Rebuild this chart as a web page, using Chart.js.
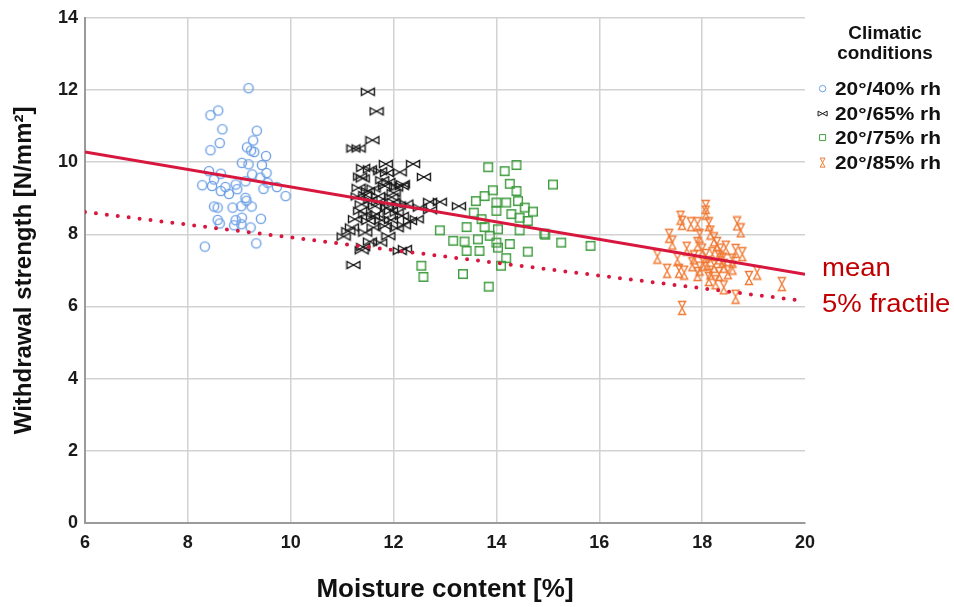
<!DOCTYPE html>
<html>
<head>
<meta charset="utf-8">
<script src="https://cdn.jsdelivr.net/npm/chart.js@4.4.1/dist/chart.umd.min.js"></script>
<style>
  body { margin: 0; background: #fff; }
  #wrap { position: relative; width: 954px; height: 607px; font-family: "Liberation Sans", Arial, sans-serif; }
  #legTitle { position: absolute; left: 835px; top: 23px; width: 100px; text-align: center;
    font-weight: bold; font-size: 18px; line-height: 20px; color: #111; transform: scaleX(1.05); }
  .row { position: absolute; left: 817px; height: 22px; display: flex; align-items: center; }
  .row span { font-weight: bold; font-size: 19px; color: #111; margin-left: 6px;
    transform: scaleX(1.1); transform-origin: left center; white-space: nowrap; }
  .note { position: absolute; left: 822px; font-size: 25px; color: #c00000;
    transform: scaleX(1.1); transform-origin: left center; white-space: nowrap; line-height: 30px; }
</style>
</head>
<body>
<div id="wrap">
  <canvas id="chart" width="954" height="607"></canvas>
  <div id="legTitle">Climatic<br>conditions</div>
  <div id="legend"></div>
  <div class="note" style="top:252px">mean</div>
  <div class="note" style="top:288px">5% fractile</div>
</div>
<script>
// moisture content [%], withdrawal strength [N/mm²]
const rh40 = [[9.18,12.05],[8.59,11.43],[8.44,11.30],[8.67,10.91],[9.34,10.87],[8.62,10.53],[8.44,10.33],
  [9.27,10.60],[9.15,10.41],[9.23,10.32],[9.29,10.28],[9.52,10.17],[9.05,9.98],[9.18,9.94],[9.44,9.92],
  [9.53,9.70],[8.41,9.75],[8.64,9.68],[8.51,9.52],[9.25,9.66],[9.41,9.57],[8.28,9.36],[8.47,9.34],
  [8.73,9.31],[8.93,9.38],[9.12,9.47],[9.55,9.43],[8.64,9.20],[8.80,9.12],[8.96,9.25],[9.47,9.26],
  [9.73,9.31],[9.90,9.06],[9.12,9.01],[9.14,8.93],[8.51,8.77],[8.58,8.74],[8.87,8.74],[9.04,8.78],
  [9.24,8.77],[8.58,8.40],[8.62,8.30],[8.93,8.39],[9.05,8.46],[9.04,8.28],[8.90,8.25],[9.42,8.43],
  [9.22,8.19],[9.33,7.75],[8.33,7.66]];

const rh65 = [[11.50,11.95],[11.67,11.41],[11.59,10.61],[11.32,10.38],[11.22,10.38],[12.38,9.95],[12.59,9.59],
  [11.41,9.84],[11.54,9.80],[11.74,9.75],[11.87,9.70],[12.12,9.72],[11.32,9.29],[11.61,9.27],[11.83,9.34],
  [12.16,9.34],[11.45,9.09],[11.70,9.06],[11.96,9.03],[12.71,8.90],[12.90,8.90],[11.38,8.83],[11.64,8.78],
  [11.87,8.74],[12.51,8.74],[12.71,8.67],[11.67,8.56],[12.06,8.60],[12.16,8.51],[11.25,8.42],[11.51,8.37],
  [11.77,8.39],[12.32,8.37],[12.45,8.42],[11.19,8.19],[11.61,8.19],[11.83,8.23],[12.06,8.17],[11.12,8.09],
  [11.03,7.94],[11.54,7.80],[11.74,7.77],[11.41,7.65],[11.38,7.56],[12.12,7.54],[11.22,7.15],[12.18,9.39],
  [13.27,8.78],[12.22,7.59],[11.40,9.55],[11.78,9.50],[12.00,9.15],[11.55,8.95],[11.95,8.40],[11.45,8.55],
  [12.25,8.85],[11.30,9.05],[11.85,9.95],[12.00,8.90],[11.35,9.60],[11.90,9.45],[12.05,9.30],[11.50,9.20],
  [11.70,8.90],[12.10,8.80],[11.35,8.65],[11.95,8.65],[11.60,8.50],[12.20,8.25],[11.45,8.05],[11.90,7.95]];

const rh75 = [[13.84,9.86],[14.39,9.92],[14.16,9.75],[15.10,9.38],[14.26,9.40],[14.39,9.20],[13.93,9.22],
  [13.77,9.06],[13.60,8.92],[14.00,8.88],[14.19,8.88],[14.42,8.92],[14.55,8.74],[14.71,8.63],[13.56,8.60],
  [14.00,8.65],[14.29,8.56],[13.71,8.42],[14.45,8.46],[14.61,8.37],[13.42,8.20],[13.77,8.20],[14.03,8.14],
  [14.45,8.11],[12.90,8.11],[14.93,8.02],[13.87,7.96],[13.64,7.86],[13.16,7.82],[13.38,7.80],[14.00,7.77],
  [15.26,7.77],[14.26,7.73],[13.67,7.54],[13.42,7.54],[14.03,7.63],[14.61,7.52],[14.19,7.34],[14.09,7.13],
  [12.54,7.13],[12.58,6.82],[13.35,6.90],[13.85,6.55],[15.83,7.68],[14.95,7.99]];

const rh85 = [[18.07,8.76],[18.07,8.60],[17.58,8.46],[17.61,8.32],[17.78,8.28],[17.91,8.28],[18.13,8.28],
  [18.68,8.30],[18.75,8.11],[18.16,8.05],[17.36,7.96],[17.95,7.96],[18.23,7.86],[17.42,7.77],[17.91,7.73],
  [18.29,7.73],[18.46,7.63],[18.65,7.54],[18.78,7.45],[17.13,7.38],[17.52,7.31],[17.84,7.36],[18.07,7.40],
  [18.33,7.36],[18.59,7.27],[17.81,7.17],[18.03,7.17],[18.23,7.13],[18.42,7.13],[18.59,7.08],[17.55,6.99],
  [17.32,6.99],[17.65,6.94],[17.91,6.90],[18.16,6.94],[18.33,6.90],[19.07,6.94],[18.91,6.79],[18.13,6.76],
  [18.26,6.67],[18.42,6.53],[19.55,6.62],[18.65,6.27],[17.61,5.96],[18.00,7.55],[18.20,7.45],[18.40,7.30],
  [17.95,7.05],[18.35,7.55],[18.50,6.95],[17.70,7.60],[18.10,7.20]];

// regression lines, value at x = 6 and x = 20
const lineX = [6, 20];
const meanLine = [10.28, 6.89];
const fractileLine = [8.62, 6.15];

const xTicks = [6, 8, 10, 12, 14, 16, 18, 20];
const yTicks = [0, 2, 4, 6, 8, 10, 12, 14];

const seriesLabels = ['20°/40% rh', '20°/65% rh', '20°/75% rh', '20°/85% rh'];
const seriesShapes = ['circle', 'bowtie', 'square', 'hourglass'];
const seriesColors = ['#6c9fe4', '#1a1a1a', '#3f9c3f', '#f07a35'];

function makeMarker(shape, color, s) {
  const c = document.createElement('canvas');
  c.width = Math.ceil(16 * s);
  c.height = Math.ceil(16 * s);
  const g = c.getContext('2d');
  g.scale(s, s);
  g.strokeStyle = color;
  g.lineWidth = 1.4;
  g.beginPath();
  if (shape === 'circle') {
    g.arc(8, 8, 4.6, 0, Math.PI * 2);
  } else if (shape === 'bowtie') {
    g.moveTo(1.5, 4.5); g.lineTo(14.5, 11.5); g.lineTo(14.5, 4.5); g.lineTo(1.5, 11.5); g.closePath();
  } else if (shape === 'square') {
    g.rect(3.7, 3.7, 8.6, 8.6);
  } else {
    g.moveTo(4.5, 1.5); g.lineTo(11.5, 1.5); g.lineTo(4.5, 14.5); g.lineTo(11.5, 14.5); g.closePath();
  }
  g.stroke();
  return c;
}

const pts = arr => arr.map(p => ({ x: p[0], y: p[1] }));
const seriesData = [rh40, rh65, rh75, rh85];

const scatterSets = seriesData.map((d, i) => ({
  label: seriesLabels[i],
  data: pts(d),
  pointStyle: makeMarker(seriesShapes[i], seriesColors[i], 1),
  pointRadius: 6,
  pointHoverRadius: 6,
}));

const legendBox = document.getElementById('legend');
seriesLabels.forEach((lab, i) => {
  const row = document.createElement('div');
  row.className = 'row';
  row.style.top = (78 + i * 24.5) + 'px';
  row.appendChild(makeMarker(seriesShapes[i], seriesColors[i], 0.7));
  const sp = document.createElement('span');
  sp.textContent = lab;
  row.appendChild(sp);
  legendBox.appendChild(row);
});

const red = '#d8173e';

new Chart(document.getElementById('chart'), {
  type: 'scatter',
  data: {
    datasets: [
      {
        type: 'line', label: 'mean',
        data: lineX.map((x, i) => ({ x, y: meanLine[i] })),
        borderColor: red, borderWidth: 3, pointRadius: 0,
      },
      {
        type: 'line', label: '5% fractile',
        data: lineX.map((x, i) => ({ x, y: fractileLine[i] })),
        borderColor: red, borderWidth: 4, borderDash: [0, 11], borderCapStyle: 'round', pointRadius: 0,
      },
      ...scatterSets,
    ]
  },
  options: {
    responsive: false,
    animation: false,
    devicePixelRatio: 1,
    layout: { padding: { top: 13, right: 149, left: 0, bottom: 0 } },
    plugins: {
      legend: { display: false },
      tooltip: { enabled: false },
    },
    scales: {
      x: {
        type: 'linear', min: 6, max: 20,
        afterBuildTicks: s => { s.ticks = xTicks.map(v => ({ value: v })); },
        afterFit: s => { s.height = 84; },
        ticks: { padding: 9, color: '#1a1a1a', font: { family: 'Liberation Sans', size: 18, weight: 'bold' } },
        grid: {
          drawTicks: false, lineWidth: 1.5,
          color: c => (c.tick && c.tick.value === 20) ? 'rgba(0,0,0,0)' : '#d2d2d2',
        },
        border: { color: '#9a9a9a', width: 2 },
        title: {
          display: true, text: 'Moisture content [%]', color: '#111',
          font: { family: 'Liberation Sans', size: 26, weight: 'bold', lineHeight: 1 },
          padding: { top: 0, bottom: 4 },
        },
      },
      y: {
        min: 0, max: 14,
        afterBuildTicks: s => { s.ticks = yTicks.map(v => ({ value: v })); },
        afterFit: s => { s.width = 85; },
        ticks: { padding: 7, color: '#1a1a1a', font: { family: 'Liberation Sans', size: 18, weight: 'bold' } },
        grid: { drawTicks: false, lineWidth: 1.5, color: '#d2d2d2' },
        border: { color: '#9a9a9a', width: 2 },
        title: {
          display: true, text: 'Withdrawal strength [N/mm²]', color: '#111',
          font: { family: 'Liberation Sans', size: 24, weight: 'bold', lineHeight: 1 },
          padding: { top: 12, bottom: 0 },
        },
      },
    },
  },
});
</script>
</body>
</html>
